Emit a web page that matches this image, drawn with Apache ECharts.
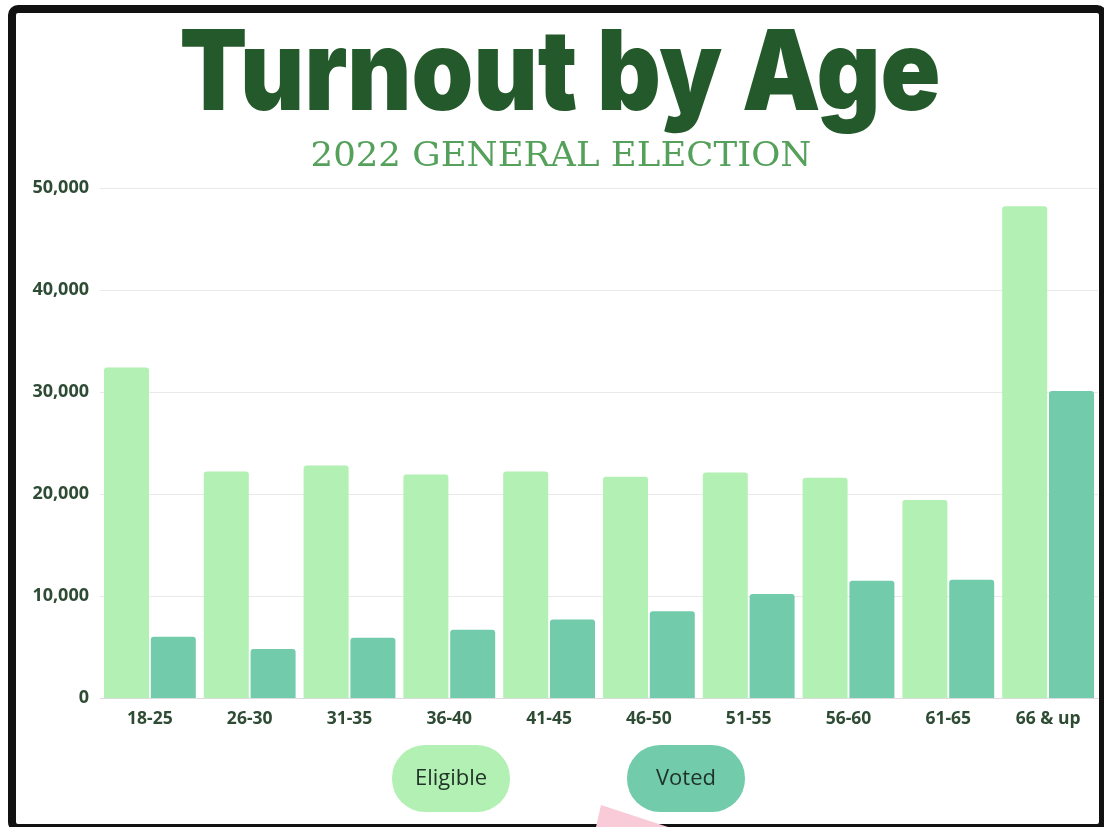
<!DOCTYPE html>
<html>
<head>
<meta charset="utf-8">
<script src="https://cdn.jsdelivr.net/npm/echarts@6/dist/echarts.min.js"></script>
<style>
html,body{margin:0;padding:0;background:#fff;}
#c{width:1104px;height:827px;}
</style>
</head>
<body>
<div id="c"></div>
<script>
const categories = ['18-25','26-30','31-35','36-40','41-45','46-50','51-55','56-60','61-65','66 & up'];
const eligible = [32400, 22200, 22800, 21900, 22200, 21700, 22100, 21600, 19400, 48200];
const voted = [6000, 4800, 5900, 6700, 7700, 8500, 10200, 11500, 11600, 30100];
const seriesNames = ['Eligible', 'Voted'];
const yTicks = [0, 10000, 20000, 30000, 40000, 50000];
const titleText = 'Turnout by Age';
const subtitleText = '2022 GENERAL ELECTION';

const colE = '#b2f0b4';
const colV = '#72cbab';
const dark = '#2e4b34';

const chart = echarts.init(document.getElementById('c'), null, {renderer: 'canvas'});

function pill(x, label, color) {
  return {
    type: 'group',
    left: x, top: 745,
    children: [
      {type: 'rect', shape: {x: 0, y: 0, width: 118, height: 67, r: 33}, style: {fill: color}},
      {type: 'text', x: 59, y: 34, style: {text: label, fill: '#1f3326', font: '22px "Open Sans"', align: 'center', verticalAlign: 'middle'}}
    ]
  };
}

chart.setOption({
  animation: false,
  backgroundColor: '#fff',
  grid: {left: 100, right: 6, top: 188, bottom: 129, containLabel: false},
  xAxis: {
    type: 'category',
    data: categories,
    axisLine: {lineStyle: {color: '#dcdcdc', width: 1}},
    axisTick: {show: false},
    axisLabel: {color: dark, fontFamily: 'Open Sans', fontWeight: 'bold', fontSize: 17.5, margin: 12}
  },
  yAxis: {
    type: 'value',
    min: yTicks[0], max: yTicks[yTicks.length - 1], interval: yTicks[1] - yTicks[0],
    axisLine: {show: false},
    axisTick: {show: false},
    splitLine: {lineStyle: {color: '#e9e9e9', width: 1}},
    axisLabel: {
      color: dark, fontFamily: 'Open Sans', fontWeight: 'bold', fontSize: 18, margin: 11,
      formatter: v => v.toLocaleString('en-US')
    }
  },
  series: [
    {name: seriesNames[0], type: 'bar', data: eligible, barWidth: 45, barGap: '4%',
     itemStyle: {color: colE, borderRadius: [3, 3, 0, 0]}},
    {name: seriesNames[1], type: 'bar', data: voted, barWidth: 45,
     itemStyle: {color: colV, borderRadius: [3, 3, 0, 0]}}
  ],
  graphic: [
    {type: 'text', x: 560, y: 20, scaleX: 1, scaleY: 1.13,
     style: {text: titleText, fill: '#245a2b', font: '900 99px Inter', align: 'center', verticalAlign: 'top'}},
    {type: 'text', x: 561, y: 141, scaleX: 1.015, scaleY: 0.95,
     style: {text: subtitleText, fill: '#55a05b', font: '35px "DejaVu Serif"', align: 'center', verticalAlign: 'top'}},
    pill(392, seriesNames[0], colE),
    pill(627, seriesNames[1], colV),
    {type: 'rect', left: 8, top: 5, shape: {x: 0, y: 0, width: 1091, height: 819, r: 6},
     style: {fill: 'none', stroke: '#111', lineWidth: 8}, z: 100},
    {type: 'polygon', shape: {points: [[601, 805], [668, 827], [596, 827]]},
     style: {fill: '#f9cad7'}, z: 101}
  ]
});
</script>
</body>
</html>
